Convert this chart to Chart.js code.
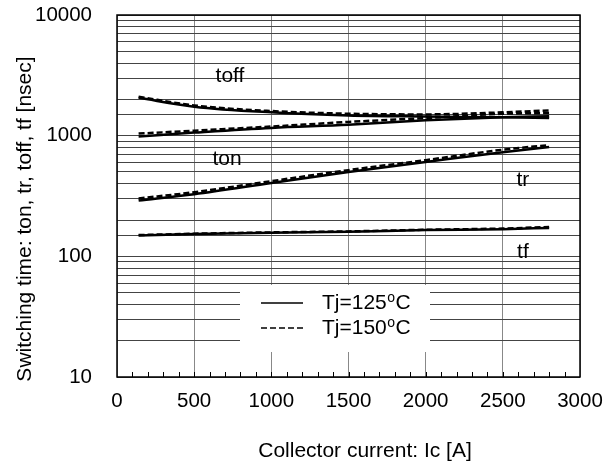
<!DOCTYPE html>
<html>
<head>
<meta charset="utf-8">
<script src="https://cdn.jsdelivr.net/npm/chart.js@4/dist/chart.umd.min.js"></script>
<style>
  body { margin: 0; background: #fff; }
  canvas { display: block; }
</style>
</head>
<body>
<canvas id="switchChart" width="614" height="474"></canvas>
<script>
// collector current points [A]
const currents = [140, 500, 1000, 1500, 2000, 2500, 2800];

// switching times [nsec]
const toff125 = [2060, 1740, 1560, 1470, 1440, 1420, 1400];
const toff150 = [2100, 1780, 1600, 1520, 1500, 1560, 1620];
const ton125 = [985, 1060, 1160, 1230, 1340, 1420, 1450];
const ton150 = [1040, 1100, 1190, 1300, 1400, 1520, 1540];
const tr125 = [290, 327, 405, 500, 605, 730, 805];
const tr150 = [302, 340, 420, 518, 627, 765, 835];
const tf125 = [149, 153, 157, 160, 165, 168, 172];
const tf150 = [150, 154, 158, 161, 166, 170, 175];

// curve names placed in data coordinates
const curveLabels = [
  { text: 'toff', x: 732, y: 3100 },
  { text: 'ton', x: 713, y: 640 },
  { text: 'tr', x: 2630, y: 430 },
  { text: 'tf', x: 2630, y: 109 },
];

const legendItems = [
  { temp: '125', dash: [] },
  { temp: '150', dash: [6, 3] },
];

const xTitle = 'Collector current: Ic [A]';
const yTitle = 'Switching time: ton, tr, toff, tf [nsec]';

const FONT = '"Liberation Sans", Arial, sans-serif';

function series(values, dashed) {
  return {
    data: currents.map((c, i) => ({ x: c, y: values[i] })),
    borderColor: '#000',
    borderWidth: 2.5,
    borderDash: dashed ? [6, 3] : [],
    pointRadius: 0,
    fill: false,
    cubicInterpolationMode: 'monotone',
  };
}

// legend box, minor ticks, frame, axis titles and curve names
const decorations = {
  id: 'decorations',
  beforeDatasetsDraw(chart) {
    const { ctx, chartArea } = chart;
    const x0 = chartArea.left + 123, y0 = chartArea.top + 270;
    ctx.save();
    ctx.fillStyle = '#fff';
    ctx.fillRect(x0, y0, 190, 67);
    ctx.strokeStyle = '#000';
    ctx.lineWidth = 1.5;
    ctx.fillStyle = '#000';
    ctx.textBaseline = 'middle';
    legendItems.forEach((item, i) => {
      const y = y0 + 18 + i * 25;
      ctx.setLineDash(item.dash);
      ctx.beginPath();
      ctx.moveTo(x0 + 21, y);
      ctx.lineTo(x0 + 63, y);
      ctx.stroke();
      let tx = x0 + 82;
      ctx.font = '21px ' + FONT;
      const main = 'Tj=' + item.temp;
      ctx.fillText(main, tx, y);
      tx += ctx.measureText(main).width + 0.5;
      ctx.font = '14px ' + FONT;
      ctx.fillText('o', tx, y - 5);
      tx += ctx.measureText('o').width + 0.5;
      ctx.font = '21px ' + FONT;
      ctx.fillText('C', tx, y);
    });
    ctx.restore();
  },
  afterDatasetsDraw(chart) {
    const { ctx, chartArea, scales } = chart;
    ctx.save();
    // minor ticks every 100 A, pointing up from the bottom edge
    ctx.strokeStyle = '#000';
    ctx.lineWidth = 1;
    for (let v = 100; v < 3000; v += 100) {
      const px = Math.round(scales.x.getPixelForValue(v)) + 0.5;
      ctx.beginPath();
      ctx.moveTo(px, chartArea.bottom);
      ctx.lineTo(px, chartArea.bottom - 5);
      ctx.stroke();
    }
    ctx.lineWidth = 1.5;
    ctx.strokeRect(chartArea.left, chartArea.top, chartArea.right - chartArea.left, chartArea.bottom - chartArea.top);

    ctx.font = '21px ' + FONT;
    ctx.fillStyle = '#000';
    ctx.textAlign = 'center';
    ctx.textBaseline = 'middle';
    curveLabels.forEach((l) => {
      ctx.fillText(l.text, scales.x.getPixelForValue(l.x), scales.y.getPixelForValue(l.y));
    });

    // axis titles
    ctx.fillText(xTitle, 365, 451);
    ctx.translate(25, 219);
    ctx.rotate(-Math.PI / 2);
    ctx.fillText(yTitle, 0, 0);
    ctx.restore();
  },
};

function isDecade(v) {
  const e = Math.round(Math.log10(v));
  return Math.abs(v - Math.pow(10, e)) < 1e-6;
}

new Chart(document.getElementById('switchChart'), {
  type: 'line',
  data: {
    datasets: [
      series(toff125, false), series(toff150, true),
      series(ton125, false), series(ton150, true),
      series(tr125, false), series(tr150, true),
      series(tf125, false), series(tf150, true),
    ],
  },
  options: {
    responsive: false,
    animation: false,
    layout: { padding: { top: 15, right: 34, left: 0, bottom: 0 } },
    plugins: { legend: { display: false }, tooltip: { enabled: false } },
    scales: {
      x: {
        type: 'linear',
        min: 0,
        max: 3000,
        afterFit(scale) {
          scale.height = 97;
          scale.paddingLeft = 0;
          scale.paddingRight = 0;
        },
        border: { display: false },
        grid: { color: '#888', lineWidth: 1, drawTicks: false },
        ticks: {
          stepSize: 500,
          padding: 12,
          maxRotation: 0,
          color: '#000',
          font: { family: FONT, size: 20.5 },
          callback: (v) => String(v),
        },
      },
      y: {
        type: 'logarithmic',
        min: 10,
        max: 10000,
        afterFit(scale) {
          scale.width = 117;
          scale.paddingTop = 0;
          scale.paddingBottom = 0;
        },
        border: { display: false },
        grid: { color: '#444', lineWidth: 1, drawTicks: false },
        ticks: {
          autoSkip: false,
          padding: 25,
          color: '#000',
          font: { family: FONT, size: 20.5 },
          callback: (v) => (isDecade(v) ? String(v) : ''),
        },
      },
    },
  },
  plugins: [decorations],
});
</script>
</body>
</html>
